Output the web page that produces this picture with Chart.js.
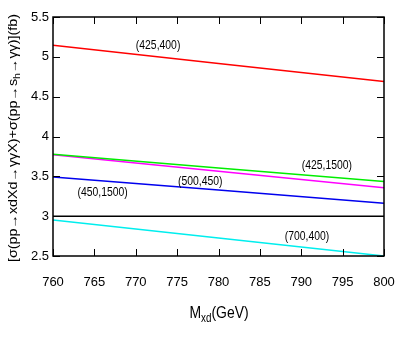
<!DOCTYPE html>
<html><head><meta charset="utf-8">
<script src="https://cdn.jsdelivr.net/npm/chart.js@4"></script>
<style>html,body{margin:0;padding:0;background:#fff}#w{width:402px;height:346px}</style>
</head><body><div id="w"><canvas id="c"></canvas></div>
<script>
const mxd = [760, 780, 800];
const s425_400 = [5.145, 4.917, 4.69];
const s425_1500 = [3.777, 3.605, 3.434];
const s500_450 = [3.77, 3.564, 3.358];
const s450_1500 = [3.492, 3.327, 3.162];
const s700_400 = [2.953, 2.727, 2.50];
const ref3 = [3, 3, 3];
const seriesNames = ["(425,400)", "(425,1500)", "(500,450)", "(450,1500)", "(700,400)"];
const labelPos = [[772.7, 5.14], [793.1, 3.643], [777.8, 3.442], [766.0, 3.292], [790.7, 2.74]];
const xTicks = [760, 765, 770, 775, 780, 785, 790, 795, 800];
const yTicks = [2.5, 3, 3.5, 4, 4.5, 5, 5.5];

const FONT = "'Liberation Sans Narrow', 'Liberation Sans', Arial, sans-serif";
function pts(arr){ return mxd.map((x,i)=>({x:x,y:arr[i]})); }
function ds(label, arr, color){ return {label, data: pts(arr), borderColor: color, borderWidth: 1.5, pointRadius: 0, fill:false, tension:0}; }

function narrowText(ctx, txt, x, y, sx){
  ctx.save(); ctx.translate(x, y); ctx.scale(sx, 1); ctx.fillText(txt, 0, 0); ctx.restore();
}

const deco = {
  id:'deco',
  afterDraw(chart){
    const ctx = chart.ctx, a = chart.chartArea, xs = chart.scales.x, ys = chart.scales.y;
    ctx.save();
    ctx.strokeStyle = '#000'; ctx.lineWidth = 1.5;
    ctx.strokeRect(a.left, a.top, a.right-a.left, a.bottom-a.top);
    ctx.lineWidth = 1;
    const L = 7;
    ctx.beginPath();
    xTicks.forEach(v=>{ const p = Math.round(xs.getPixelForValue(v))+0.5;
      ctx.moveTo(p, a.bottom); ctx.lineTo(p, a.bottom-L);
      ctx.moveTo(p, a.top); ctx.lineTo(p, a.top+L); });
    yTicks.forEach(v=>{ const p = Math.round(ys.getPixelForValue(v))+0.5;
      ctx.moveTo(a.left, p); ctx.lineTo(a.left+L, p);
      ctx.moveTo(a.right, p); ctx.lineTo(a.right-L, p); });
    ctx.stroke();
    // series labels
    ctx.fillStyle = '#000'; ctx.font = '13px ' + FONT; ctx.textAlign='center'; ctx.textBaseline='middle';
    seriesNames.forEach((n,i)=>{ narrowText(ctx, n, xs.getPixelForValue(labelPos[i][0]), ys.getPixelForValue(labelPos[i][1]), 0.8); });
    // x title M_xd(GeV)
    ctx.textAlign='left'; ctx.textBaseline='alphabetic';
    let big = '17px ' + FONT, small = '12px ' + FONT;
    const sx = 0.82;
    ctx.font = big; const wM = ctx.measureText('M').width*sx;
    ctx.font = small; const wS = ctx.measureText('xd').width*sx;
    ctx.font = big; const wR = ctx.measureText('(GeV)').width*sx;
    let x0 = 219 - (wM+wS+wR)/2, yb = 318;
    ctx.font = big; narrowText(ctx, 'M', x0, yb, sx);
    ctx.font = small; narrowText(ctx, 'xd', x0+wM, yb+4, sx);
    ctx.font = big; narrowText(ctx, '(GeV)', x0+wM+wS, yb, sx);
    // y title
    ctx.translate(12, 138);
    ctx.rotate(-Math.PI/2);
    const f1 = '12px ' + FONT, f2 = '9px ' + FONT;
    const parts = [['[σ(pp→xdXd→γγX)+σ(pp→s',f1,0],['h',f2,3],['→γγ)](fb)',f1,0]];
    let tw = 0; parts.forEach(p=>{ ctx.font=p[1]; tw += ctx.measureText(p[0]).width; });
    const k = 248 / tw;
    ctx.scale(k, 1);
    let cx = -tw/2;
    parts.forEach(p=>{ ctx.font=p[1]; ctx.fillText(p[0], cx, 4.5+p[2]); cx += ctx.measureText(p[0]).width; });
    ctx.restore();
  }
};

new Chart(document.getElementById('c'), {
  type:'line',
  data:{ datasets:[
    ds('(425,400)', s425_400, '#ff0000'),
    ds('(425,1500)', s425_1500, '#00ee00'),
    ds('(500,450)', s500_450, '#ff00ff'),
    ds('(450,1500)', s450_1500, '#0000ee'),
    ds('(700,400)', s700_400, '#00eeee'),
    ds('ref', ref3, '#000000')
  ]},
  options:{
    responsive:true, maintainAspectRatio:false, animation:false,
    layout:{padding:{top:17, right:18, left:0, bottom:0}},
    plugins:{legend:{display:false}, tooltip:{enabled:false}},
    scales:{
      x:{type:'linear', min:760, max:800,
        afterBuildTicks(s){ s.ticks = xTicks.map(v=>({value:v})); },
        afterFit(s){ s.height = 90; s.paddingLeft = 0; s.paddingRight = 0; },
        grid:{display:false, drawTicks:false}, border:{display:false},
        ticks:{color:'#000', font:{family:FONT, size:13}, padding:19, maxRotation:0}},
      y:{type:'linear', min:2.5, max:5.5,
        afterBuildTicks(s){ s.ticks = yTicks.map(v=>({value:v})); },
        afterFit(s){ s.width = 53; s.paddingTop = 0; s.paddingBottom = 0; },
        grid:{display:false, drawTicks:false}, border:{display:false},
        ticks:{color:'#000', font:{family:FONT, size:13}, padding:4, callback:v=>String(v)}}
    }
  },
  plugins:[deco]
});
</script></body></html>
